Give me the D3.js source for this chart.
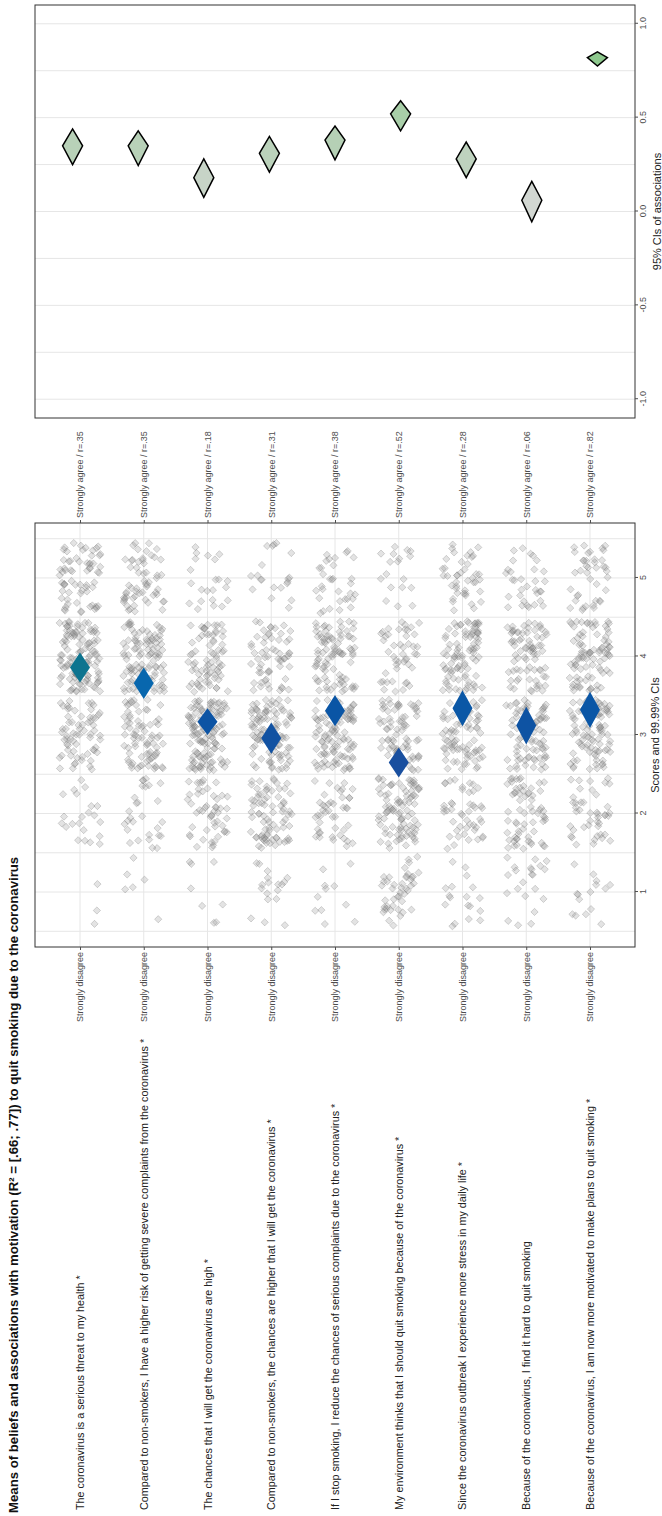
<!DOCTYPE html>
<html>
<head>
<meta charset="utf-8">
<style>
  body { margin: 0; background: #fff; }
  text { font-family: "Liberation Sans", Arial, sans-serif; }
</style>
<script src="https://d3js.org/d3.v7.min.js"></script>
</head>
<body>
<div id="chart"></div>
<script>
// ---- data ----
const items = [
  "The coronavirus is a serious threat to my health *",
  "Compared to non-smokers, I have a higher risk of getting severe complaints from the coronavirus *",
  "The chances that I will get the coronavirus are high *",
  "Compared to non-smokers, the chances are higher that I will get the coronavirus *",
  "If I stop smoking, I reduce the chances of serious complaints due to the coronavirus *",
  "My environment thinks that I should quit smoking because of the coronavirus *",
  "Since the coronavirus outbreak I experience more stress in my daily life *",
  "Because of the coronavirus, I find it hard to quit smoking",
  "Because of the coronavirus, I am now more motivated to make plans to quit smoking *"
]
const meanScores = [3.86, 3.66, 3.17, 2.96, 3.31, 2.65, 3.34, 3.12, 3.32]
const ciHalf     = [0.19, 0.20, 0.17, 0.20, 0.20, 0.19, 0.23, 0.24, 0.23]
const rValues = [0.35, 0.35, 0.18, 0.31, 0.38, 0.52, 0.28, 0.06, 0.82]
const rLower  = [0.25, 0.245, 0.075, 0.21, 0.275, 0.43, 0.18, -0.055, 0.775]
const rUpper  = [0.44, 0.43, 0.28, 0.40, 0.455, 0.59, 0.37, 0.16, 0.85]
const responseLevels = [1, 2, 3, 4, 5]
// number of respondents per answer (1..5) for each item
const responseCounts = [
  [3, 22, 66, 120, 66],
  [6, 28, 76, 104, 58],
  [8, 50, 120, 72, 22],
  [18, 78, 96, 60, 20],
  [11, 44, 98, 88, 32],
  [44, 90, 76, 46, 18],
  [18, 46, 78, 90, 42],
  [22, 64, 78, 76, 32],
  [15, 44, 88, 88, 40]
]
const scoreTicks = [1, 2, 3, 4, 5]
const assocTicks = [-1, -0.5, 0, 0.5, 1]

// chart is drawn landscape, then turned a quarter turn
const W = 1516, H = 662

const svg = d3.select("#chart").append("svg")
  .attr("width", H).attr("height", W)
const g = svg.append("g").attr("transform", "translate(0," + W + ") rotate(-90)")

const rows = d3.range(items.length)
const xs = d3.scaleLinear().domain([0.3, 5.7]).range([569, 993])
const xa = d3.scaleLinear().domain([-1.1, 1.1]).range([1098, 1511])
const yS = d3.scalePoint().domain(rows).range([35, 635]).padding(0.706)
const yA = d3.scalePoint().domain(rows).range([35, 635]).padding(0.573)

const gridCol = "#e6e6e6", axisCol = "#4d4d4d"

// title
g.append("text")
  .attr("x", 3).attr("y", 13)
  .attr("dominant-baseline", "central")
  .style("font-weight", "bold").style("font-size", "13.2px").style("fill", "#111")
  .text("Means of beliefs and associations with motivation (R\u00B2 = [.66; .77]) to quit smoking due to the coronavirus")

// item labels
g.selectAll(".item").data(items).enter().append("text")
  .attr("class", "item")
  .attr("x", 6).attr("y", (d, i) => yS(i))
  .attr("dominant-baseline", "central")
  .style("font-size", "10.8px").style("fill", "#222")
  .text(d => d)

// ---- scores panel ----
const ps = g.append("g")
ps.selectAll(".gx").data(d3.range(0.5, 5.6, 0.5)).enter().append("line")
  .attr("x1", d => xs(d)).attr("x2", d => xs(d))
  .attr("y1", 35).attr("y2", 635)
  .style("stroke", gridCol).style("stroke-width", 1)
ps.selectAll(".gy").data(rows).enter().append("line")
  .attr("x1", 569).attr("x2", 993)
  .attr("y1", d => yS(d)).attr("y2", d => yS(d))
  .style("stroke", gridCol).style("stroke-width", 1)

// jittered answers (seeded jitter, like geom_jitter)
const rng = d3.randomLcg(7)
const pts = []
responseCounts.forEach((counts, i) => {
  counts.forEach((n, k) => {
    for (let j = 0; j < n; j++) {
      pts.push({ row: i, score: responseLevels[k] + (rng() - 0.5) * 0.9, dv: (rng() - 0.5) * 0.64 })
    }
  })
})
const step = yS.step()
ps.selectAll(".pt").data(pts).enter().append("path")
  .attr("d", "M-3.6,0L0,-3.6L3.6,0L0,3.6Z")
  .attr("transform", d => "translate(" + xs(d.score) + "," + (yS(d.row) + d.dv * step) + ")")
  .style("fill", "#888").style("fill-opacity", 0.24)
  .style("stroke", "#6a6a6a").style("stroke-opacity", 0.34).style("stroke-width", 0.8)

const blue = d3.scaleLinear().domain([2.6, 3.3, 3.65, 3.9])
  .range(["#1a4f9f", "#0a55a5", "#0866b0", "#0e7789"])
ps.selectAll(".mean").data(rows).enter().append("path")
  .attr("d", i => {
    const y = yS(i)
    return "M" + xs(meanScores[i] - ciHalf[i]) + "," + y +
      "L" + xs(meanScores[i]) + "," + (y - 10) +
      "L" + xs(meanScores[i] + ciHalf[i]) + "," + y +
      "L" + xs(meanScores[i]) + "," + (y + 10) + "Z"
  })
  .style("fill", i => blue(meanScores[i]))

ps.append("rect").attr("x", 569).attr("y", 35).attr("width", 424).attr("height", 600)
  .style("fill", "none").style("stroke", "#333").style("stroke-width", 1)

function styleAxis(sel) {
  sel.select(".domain").remove()
  sel.selectAll("line").style("stroke", axisCol)
  sel.selectAll("text").style("fill", axisCol).style("font-size", "9px")
    .style("font-family", '"Liberation Sans", Arial, sans-serif')
}

g.append("g").attr("transform", "translate(0,635)")
  .call(d3.axisBottom(xs).tickValues(scoreTicks).tickFormat(d3.format("d")).tickSize(3).tickPadding(2))
  .call(styleAxis)
g.append("g").attr("transform", "translate(569,0)")
  .call(d3.axisLeft(yS).tickFormat(() => "Strongly disagree").tickSize(3).tickPadding(2))
  .call(styleAxis)
g.append("g").attr("transform", "translate(993,0)")
  .call(d3.axisRight(yS).tickFormat(i => "Strongly agree / r=" + d3.format(".2f")(rValues[i]).replace(/^0/, "")).tickSize(3).tickPadding(2))
  .call(styleAxis)

g.append("text").attr("x", xs(3)).attr("y", 655)
  .attr("text-anchor", "middle").attr("dominant-baseline", "central")
  .style("font-size", "11px").style("fill", "#222")
  .text("Scores and 99.99% CIs")

// ---- associations panel ----
const pa = g.append("g")
pa.selectAll(".ga").data(d3.range(-1, 1.01, 0.25)).enter().append("line")
  .attr("x1", d => xa(d)).attr("x2", d => xa(d))
  .attr("y1", 35).attr("y2", 635)
  .style("stroke", gridCol).style("stroke-width", 1)

const green = d3.scaleLinear().domain([0, 1]).range(["#d8d8d8", "#7cc47c"])
pa.selectAll(".assoc").data(rows).enter().append("path")
  .attr("d", i => {
    const y = yA(i)
    return "M" + xa(rLower[i]) + "," + y +
      "L" + xa(rValues[i]) + "," + (y - 10) +
      "L" + xa(rUpper[i]) + "," + y +
      "L" + xa(rValues[i]) + "," + (y + 10) + "Z"
  })
  .style("fill", i => green(rValues[i]))
  .style("stroke", "#000").style("stroke-width", 1.5).style("stroke-linejoin", "miter")

pa.append("rect").attr("x", 1098).attr("y", 35).attr("width", 413).attr("height", 600)
  .style("fill", "none").style("stroke", "#333").style("stroke-width", 1)

g.append("g").attr("transform", "translate(0,635)")
  .call(d3.axisBottom(xa).tickValues(assocTicks).tickFormat(d => d.toFixed(1)).tickSize(3).tickPadding(2))
  .call(styleAxis)

g.append("text").attr("x", xa(0)).attr("y", 657)
  .attr("text-anchor", "middle").attr("dominant-baseline", "central")
  .style("font-size", "11px").style("fill", "#222")
  .text("95% CIs of associations")
</script>
</body>
</html>
